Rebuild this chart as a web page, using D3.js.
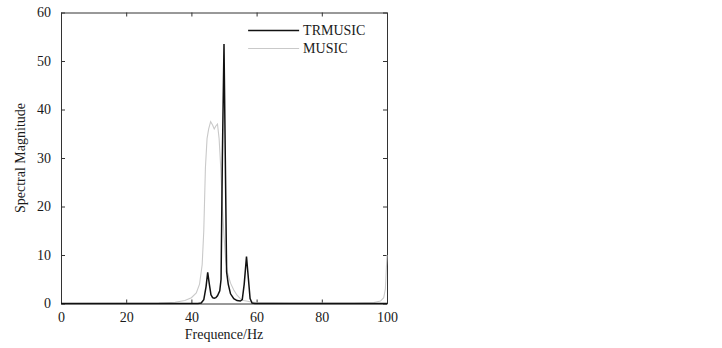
<!DOCTYPE html>
<html>
<head>
<meta charset="utf-8">
<script src="https://cdn.jsdelivr.net/npm/d3@7"></script>
<style>
  body { margin: 0; background: #fff; }
  svg { display: block; }
</style>
</head>
<body>
<div id="chart"></div>
<script>
// values
const xTicks = [0, 20, 40, 60, 80, 100]
const yTicks = [0, 10, 20, 30, 40, 50, 60]

const musicFreq = [0, 20, 30, 35, 38, 40, 41.5, 42.5, 43.3, 43.8, 44.3, 44.8, 45.3, 45.9, 46.5, 47, 47.5, 48, 48.5, 49, 49.5, 50, 50.5, 51, 52, 53, 54, 55, 56, 58, 60, 70, 90, 96, 98, 99, 99.5, 100]
const musicVal = [0, 0.02, 0.08, 0.25, 0.6, 1.2, 2.2, 4, 8, 15, 28, 34, 36, 37.5, 36.8, 36, 36.6, 37, 34, 28, 20, 14, 9, 6.5, 4.2, 2.8, 1.7, 1.0, 0.6, 0.35, 0.2, 0.08, 0.08, 0.2, 0.5, 1.2, 3, 10]

const trFreq = [0, 42, 43, 43.8, 44.5, 45, 45.5, 46, 46.5, 47, 47.5, 48, 48.7, 49.1, 49.5, 50, 50.4, 50.8, 51.3, 52, 53, 54, 55, 55.6, 56.2, 56.9, 57.5, 58, 58.6, 59.5, 100]
const trVal = [0, 0, 0.1, 0.8, 3.5, 6.4, 4, 1.8, 1.2, 1.1, 1.2, 1.6, 2.6, 5, 30, 53.5, 30, 6.5, 4, 2, 1.0, 0.6, 0.5, 0.8, 4, 9.7, 5, 1, 0.1, 0, 0]

const seriesNames = ['TRMUSIC', 'MUSIC']
const seriesColors = ['#111111', '#c9c9c9']

const width = 722
const height = 348
const margin = { left: 61, right: 335, top: 12.5, bottom: 44.5 }
const font = '"Liberation Serif", "Times New Roman", serif'
const textColor = '#1a1a1a'

const svg = d3.select('#chart').append('svg')
  .attr('width', width)
  .attr('height', height)
  .style('font-family', font)

const x = d3.scaleLinear().domain([0, 100]).range([margin.left, width - margin.right])
const y = d3.scaleLinear().domain([0, 60]).range([height - margin.bottom, margin.top])

const axisColor = '#333'

// axes with inward ticks on all four sides
const axBottom = svg.append('g').attr('transform', `translate(0,${y(0)})`)
  .call(d3.axisBottom(x).tickValues(xTicks).tickSizeInner(-4).tickSizeOuter(0).tickPadding(9))
const axTop = svg.append('g').attr('transform', `translate(0,${y(60)})`)
  .call(d3.axisTop(x).tickValues(xTicks).tickSizeInner(-4).tickSizeOuter(0).tickFormat(''))
const axLeft = svg.append('g').attr('transform', `translate(${x(0)},0)`)
  .call(d3.axisLeft(y).tickValues(yTicks).tickSizeInner(-4).tickSizeOuter(0).tickPadding(10))
const axRight = svg.append('g').attr('transform', `translate(${x(100)},0)`)
  .call(d3.axisRight(y).tickValues(yTicks).tickSizeInner(-4).tickSizeOuter(0).tickFormat(''))

;[axBottom, axTop, axLeft, axRight].forEach(a => {
  a.attr('font-family', font).attr('font-size', 14)
  a.selectAll('path').attr('stroke', axisColor).attr('stroke-width', 1)
  a.selectAll('line').attr('stroke', axisColor)
  a.selectAll('text').attr('fill', textColor)
})

const line = d3.line().x(d => x(d[0])).y(d => y(d[1]))

const music = musicFreq.map((f, i) => [f, musicVal[i]])
const tr = trFreq.map((f, i) => [f, trVal[i]])

svg.append('path').datum(music)
  .attr('d', line)
  .attr('fill', 'none')
  .attr('stroke', seriesColors[1])
  .attr('stroke-width', 1.1)

svg.append('path').datum(tr)
  .attr('d', line)
  .attr('fill', 'none')
  .attr('stroke', seriesColors[0])
  .attr('stroke-width', 1.5)

// legend
const legend = svg.append('g').attr('transform', `translate(${x(57.4)},${y(56.3)})`)
seriesNames.forEach((name, i) => {
  const row = legend.append('g').attr('transform', `translate(0,${i * 18})`)
  row.append('line')
    .attr('x1', 0).attr('x2', 51)
    .attr('stroke', seriesColors[i])
    .attr('stroke-width', i === 0 ? 1.5 : 1.1)
  row.append('text')
    .attr('x', 55).attr('y', 5)
    .attr('fill', textColor)
    .style('font-size', '14px')
    .text(name)
})

// axis labels
svg.append('text')
  .attr('x', (x(0) + x(100)) / 2)
  .attr('y', 339)
  .attr('text-anchor', 'middle')
  .attr('fill', textColor)
  .style('font-size', '14px')
  .text('Frequence/Hz')

svg.append('text')
  .attr('transform', `translate(25,${(y(0) + y(60)) / 2}) rotate(-90)`)
  .attr('text-anchor', 'middle')
  .attr('fill', textColor)
  .style('font-size', '14px')
  .text('Spectral Magnitude')
</script>
</body>
</html>
